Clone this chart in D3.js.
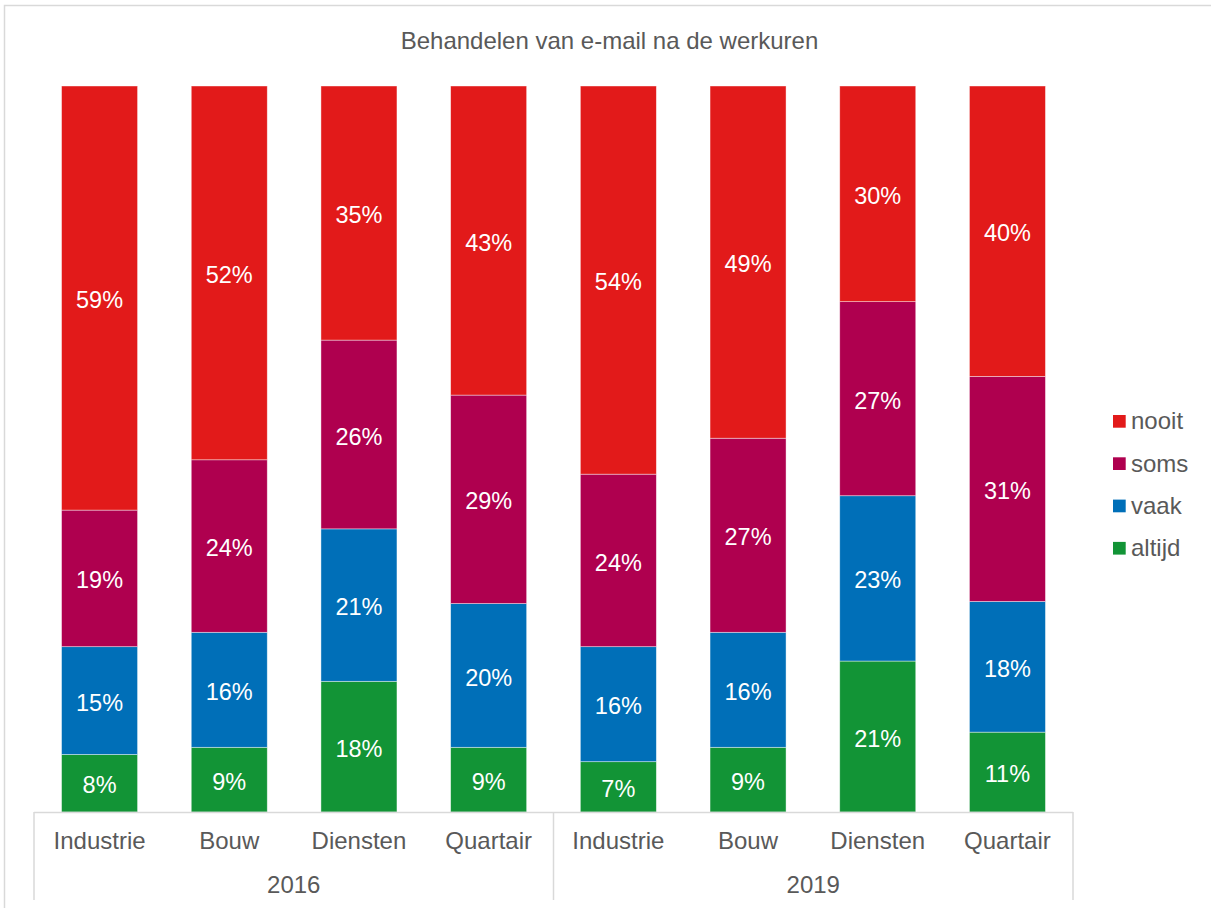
<!DOCTYPE html>
<html>
<head>
<meta charset="utf-8">
<script src="https://cdn.jsdelivr.net/npm/d3@7"></script>
<style>
  html, body { margin: 0; padding: 0; background: #fff; }
  svg { display: block; font-family: "Liberation Sans", Arial, sans-serif; }
</style>
</head>
<body>
<svg id="chart" width="1211" height="908"></svg>
<script>
// Survey answers per sector and year (percent, as labelled)
const years = ["2016", "2019"];
const sectors = ["Industrie", "Bouw", "Diensten", "Quartair"];
const seriesNames = ["altijd", "vaak", "soms", "nooit"];
const seriesColors = ["#129436", "#006FB8", "#AF004F", "#E21A1A"];

const altijd = [8, 9, 18, 9, 7, 9, 21, 11];
const vaak   = [15, 16, 21, 20, 16, 16, 23, 18];
const soms   = [19, 24, 26, 29, 24, 27, 27, 31];
const nooit  = [59, 52, 35, 43, 54, 49, 30, 40];

const chartTitle = "Behandelen van e-mail na de werkuren";

// Build one row per bar (year x sector), normalised to 100% stacks
const values = { altijd, vaak, soms, nooit };
const rows = [];
years.forEach((yr, yi) => sectors.forEach((sec, si) => {
  const i = yi * sectors.length + si;
  const r = { key: yr + "|" + sec, year: yr, sector: sec };
  let total = 0;
  seriesNames.forEach(s => { r[s] = values[s][i]; total += values[s][i]; });
  r.total = total;
  rows.push(r);
}));

const svg = d3.select("#chart");
const textColor = "#595959";
const gridColor = "#D9D9D9";

// Outer chart frame
svg.append("rect")
  .attr("x", 4.5).attr("y", 5.5)
  .attr("width", 1400).attr("height", 1000)
  .attr("fill", "none").attr("stroke", gridColor).attr("stroke-width", 1.5);

// Title
svg.append("text")
  .attr("x", 609.5).attr("y", 48.5)
  .attr("text-anchor", "middle")
  .attr("font-size", 24).attr("fill", textColor)
  .text(chartTitle);

const plotLeft = 34, plotRight = 1073, plotTop = 86, plotBottom = 812;

const x = d3.scaleBand()
  .domain(rows.map(r => r.key))
  .range([plotLeft, plotRight])
  .paddingInner(0.414)
  .paddingOuter(0.2125);

const y = d3.scaleLinear().domain([0, 1]).range([plotBottom, plotTop]);

const stack = d3.stack()
  .keys(seriesNames)
  .value((d, k) => d[k] / d.total);
const layers = stack(rows);

const color = d3.scaleOrdinal().domain(seriesNames).range(seriesColors);

const layerG = svg.append("g").selectAll("g")
  .data(layers).join("g")
  .attr("fill", d => color(d.key));

layerG.selectAll("rect")
  .data(d => d)
  .join("rect")
  .attr("x", d => x(d.data.key))
  .attr("width", x.bandwidth())
  .attr("y", d => y(d[1]))
  .attr("height", d => y(d[0]) - y(d[1]))
  .attr("stroke", "#ffffff")
  .attr("stroke-opacity", 0.55)
  .attr("stroke-width", 0.75);

// Value labels centred in each segment
layers.forEach(layer => {
  svg.append("g").selectAll("text")
    .data(layer)
    .join("text")
    .attr("x", d => x(d.data.key) + x.bandwidth() / 2)
    .attr("y", d => (y(d[0]) + y(d[1])) / 2)
    .attr("dy", "0.43em")
    .attr("text-anchor", "middle")
    .attr("font-size", 23.5)
    .attr("fill", "#ffffff")
    .text(d => d.data[layer.key] + "%");
});

// Category axis: baseline, group separators, sector and year labels
const axisG = svg.append("g");
axisG.append("line")
  .attr("x1", plotLeft).attr("x2", plotRight)
  .attr("y1", plotBottom + 0.5).attr("y2", plotBottom + 0.5)
  .attr("stroke", gridColor).attr("stroke-width", 1.5);

const groupEdges = [plotLeft];
years.forEach((yr, yi) => {
  const lastKey = yr + "|" + sectors[sectors.length - 1];
  const nextKey = years[yi + 1] ? years[yi + 1] + "|" + sectors[0] : null;
  groupEdges.push(nextKey ? (x(lastKey) + x.bandwidth() + x(nextKey)) / 2 : plotRight);
});
axisG.selectAll("line.sep")
  .data(groupEdges)
  .join("line")
  .attr("class", "sep")
  .attr("x1", d => d).attr("x2", d => d)
  .attr("y1", plotBottom).attr("y2", 900)
  .attr("stroke", gridColor).attr("stroke-width", 1.5);

axisG.selectAll("text.cat")
  .data(rows)
  .join("text")
  .attr("class", "cat")
  .attr("x", d => x(d.key) + x.bandwidth() / 2)
  .attr("y", 849)
  .attr("text-anchor", "middle")
  .attr("font-size", 24)
  .attr("fill", textColor)
  .text(d => d.sector);

axisG.selectAll("text.year")
  .data(years)
  .join("text")
  .attr("class", "year")
  .attr("x", (d, i) => (groupEdges[i] + groupEdges[i + 1]) / 2)
  .attr("y", 893)
  .attr("text-anchor", "middle")
  .attr("font-size", 24)
  .attr("fill", textColor)
  .text(d => d);

// Legend, top entry is the top segment
const legendItems = seriesNames.slice().reverse();
const legend = svg.append("g").selectAll("g")
  .data(legendItems)
  .join("g")
  .attr("transform", (d, i) => `translate(1113, ${415 + i * 42.3})`);
legend.append("rect")
  .attr("width", 12.7).attr("height", 12.7)
  .attr("fill", d => color(d));
legend.append("text")
  .attr("x", 18).attr("y", 14.3)
  .attr("font-size", 24)
  .attr("fill", textColor)
  .text(d => d);
</script>
</body>
</html>
